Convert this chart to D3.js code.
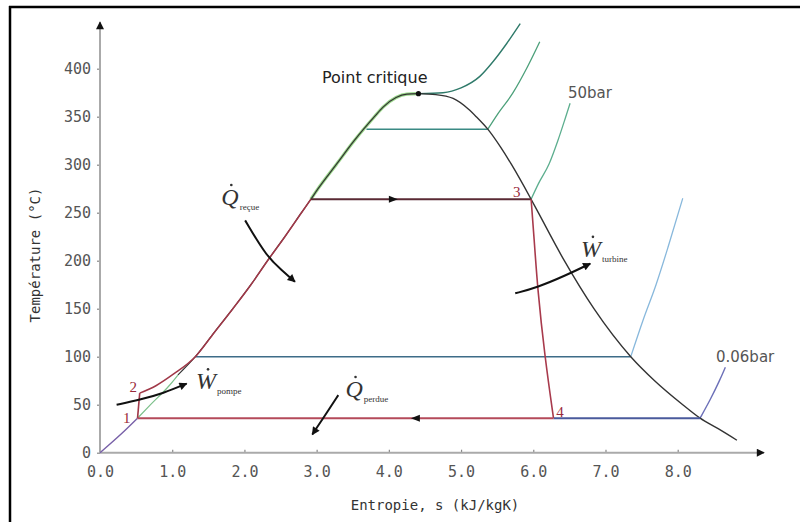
<!DOCTYPE html>
<html><head><meta charset="utf-8">
<script src="https://cdn.jsdelivr.net/npm/d3@7"></script>
<style>body{margin:0;background:#fff}svg{display:block}</style>
</head><body><svg id="c" width="800" height="522"></svg>
<script>
// ---------- data (entropy s in kJ/kgK, temperature T in °C) ----------
const xTicks = [0,1,2,3,4,5,6,7,8];
const yTicks = [0,50,100,150,200,250,300,350,400];
const satLiquid = [[0,0],[0.30,20],[0.52,36],[0.70,50],[0.96,70],[1.08,81],[1.32,100],[1.58,125],[1.84,150],[2.09,175],[2.32,200],[2.56,225],[2.79,250],[2.92,264],[3.02,275],[3.27,300],[3.52,325],[3.80,350],[3.92,360],[4.10,370],[4.25,373.5],[4.41,374]];
const satLiquidHigh = [[2.92,264],[3.02,275],[3.27,300],[3.52,325],[3.80,350],[3.92,360],[4.10,370],[4.25,373.5],[4.41,374]];
const satLiquidLow = [[0.52,36],[0.70,50],[0.96,70],[1.08,81]];
const satLiquidCold = [[0,0],[0.30,20],[0.52,36]];
const satVapor = [[4.41,374],[4.65,373],[4.89,369],[5.10,358],[5.21,350],[5.37,337],[5.55,318],[5.70,300],[5.97,264],[6.07,250],[6.43,200],[6.84,150],[7.35,100],[7.68,75],[8.07,50],[8.31,36],[8.56,25],[8.82,13]];
const pump12 = [[0.52,36],[0.55,62]];
const heat2 = [[0.55,62],[0.78,70],[1.02,82],[1.32,100],[1.58,125],[1.84,150],[2.09,175],[2.32,200],[2.56,225],[2.79,250],[2.92,264]];
const boil23 = [[2.92,264],[5.97,264]];
const turbine34 = [[5.97,264],[6.01,225],[6.06,170],[6.16,100],[6.28,36]];
const cond41 = [[6.28,36],[0.52,36]];
const wet006 = [[6.28,36],[8.31,36]];
const super006 = [[8.31,36],[8.45,55],[8.58,75],[8.66,89]];
const iso100 = [[1.32,100],[7.35,100]];
const super100 = [[7.35,100],[7.52,138],[7.70,175],[7.87,215],[8.07,265]];
const super50 = [[5.97,264],[6.07,280],[6.22,301],[6.34,325],[6.45,350],[6.51,364]];
const iso140 = [[3.69,337],[5.37,337]];
const super140 = [[5.37,337],[5.50,352],[5.72,375],[5.92,402],[6.09,428]];
const isoCrit = [[4.41,374],[4.75,375],[5.00,380],[5.26,392],[5.45,408],[5.63,426],[5.82,447]];
const arrowRecue = [[2.01,242],[2.31,204],[2.52,190],[2.70,178]];
const arrowTurbine = [[5.75,166],[6.05,172],[6.46,185],[6.79,197]];
const arrowPompe = [[0.23,50],[0.55,55],[0.88,62],[1.20,72]];
const arrowPerdue = [[3.30,60],[3.17,45],[2.94,19]];
const flowArrows = [[4.0,264,1],[4.43,36,-1]];
const pointLabels = [["1",0.37,31],["2",0.46,63],["3",5.77,266],["4",6.37,37]];
const pressureLabels = [["50bar",6.48,369],["0.06bar",8.53,94]];
const critPoint = [4.41,374];
const mathLabels = [["Q","reçue",1.68,258],["W","turbine",6.66,204],["W","pompe",1.33,66],["Q","perdue",3.40,58]];

// ---------- drawing ----------
const svg = d3.select("#c");
const x = d3.scaleLinear().domain([0,8]).range([100,677.7]);
const y = d3.scaleLinear().domain([0,400]).range([452.7,68.7]);
const line = d3.line().x(d=>x(d[0])).y(d=>y(d[1])).curve(d3.curveMonotoneX);
const smooth = d3.line().x(d=>x(d[0])).y(d=>y(d[1])).curve(d3.curveBasis);
const straight = d3.line().x(d=>x(d[0])).y(d=>y(d[1]));

const defs = svg.append("defs");
defs.append("marker").attr("id","ah").attr("viewBox","0 0 10 10").attr("refX",9).attr("refY",5)
  .attr("markerWidth",10).attr("markerHeight",8).attr("markerUnits","userSpaceOnUse").attr("orient","auto")
  .append("path").attr("d","M0,0L10,5L0,10Z").attr("fill","#111");

// frame
svg.append("line").attr("x1",9).attr("x2",800).attr("y1",7).attr("y2",7).attr("stroke","#000").attr("stroke-width",2.5);
svg.append("line").attr("x1",10).attr("x2",10).attr("y1",6).attr("y2",522).attr("stroke","#000").attr("stroke-width",2.5);

// axes
const gx = svg.append("g").attr("transform",`translate(0,${y(0)})`)
  .call(d3.axisBottom(x).tickValues(xTicks).tickFormat(d3.format(".1f")).tickSizeInner(-3).tickSizeOuter(0).tickPadding(14));
const gy = svg.append("g").attr("transform",`translate(${x(0)},0)`)
  .call(d3.axisLeft(y).tickValues(yTicks).tickSizeInner(3).tickSizeOuter(0).tickPadding(6));
[gx,gy].forEach(g=>{
  g.select(".domain").remove();
  g.selectAll(".tick line").attr("stroke","#888").attr("stroke-width",1.2);
  g.selectAll(".tick text").attr("fill","#555").style("font-family","DejaVu Sans Mono").style("font-size","15px");
});
svg.append("line").attr("x1",x(0)).attr("x2",764).attr("y1",y(0)).attr("y2",y(0))
  .attr("stroke","#aaa").attr("stroke-width",2).attr("marker-end","url(#ah)");
svg.append("line").attr("x1",x(0)).attr("x2",x(0)).attr("y1",y(0)).attr("y2",22)
  .attr("stroke","#aaa").attr("stroke-width",2).attr("marker-end","url(#ah)");

svg.append("text").attr("x",435).attr("y",510).attr("text-anchor","middle")
  .style("font-family","DejaVu Sans Mono").style("font-size","14px").attr("fill","#333")
  .text("Entropie, s (kJ/kgK)");
svg.append("text").attr("transform","translate(40,255) rotate(-90)").attr("text-anchor","middle")
  .style("font-family","DejaVu Sans Mono").style("font-size","14px").attr("fill","#333")
  .text("Température (°C)");

function path(data, color, w, gen){ return svg.append("path").datum(data).attr("d",(gen||line)).attr("fill","none").attr("stroke",color).attr("stroke-width",w); }

// isobars
path(super100,"#88b8dc",1.3);
path(iso100,"#3d6c88",1.4,straight);
path(super006,"#6c70b8",1.4,smooth);
path(super50,"#5cae8e",1.3);
path(iso140,"#3a8a84",1.5,straight);
path(super140,"#4ca07a",1.3);
path(isoCrit,"#2f7a6a",1.4);
path(satLiquidHigh,"#9ad88a",3.2);
path(satLiquidLow,"#7cc08a",1.2);
path(satLiquidCold,"#7860a8",1.4);
// saturation dome
path(satLiquid.filter(d=>d[1]>=80),"#333",1.2);
path(satVapor,"#333",1.4);
// cycle
path(wet006,"#4a5a9c",2,straight);
path(pump12,"#a03848",1.6,straight);
path(heat2,"#a03848",1.5);
path(boil23,"#5a2a34",2,straight);
path(turbine34,"#a83a4c",1.6,smooth);
path(cond41,"#b44a5a",2,straight);

flowArrows.forEach(a=>{
  const cx=x(a[0]), cy=y(a[1]), d=a[2];
  svg.append("path").attr("d",`M${cx},${cy-3.5}L${cx+9*d},${cy}L${cx},${cy+3.5}Z`).attr("fill","#111");
});

// critical point
svg.append("circle").attr("cx",x(critPoint[0])).attr("cy",y(critPoint[1])).attr("r",2.6).attr("fill","#111");
svg.append("text").attr("x",322).attr("y",83).style("font-family","DejaVu Sans").style("font-size","16px").attr("fill","#222").text("Point critique");

pressureLabels.forEach(p=>svg.append("text").attr("x",x(p[1])).attr("y",y(p[2]))
  .style("font-family","DejaVu Sans").style("font-size","15px").attr("fill","#555").text(p[0]));
pointLabels.forEach(p=>svg.append("text").attr("x",x(p[1])).attr("y",y(p[2])).attr("text-anchor","middle")
  .style("font-family","Liberation Serif").style("font-size","15px").attr("fill","#9a2a3a").text(p[0]));

// energy arrows
[arrowRecue,arrowTurbine,arrowPompe,arrowPerdue].forEach(a=>path(a,"#111",2,smooth).attr("marker-end","url(#ah)"));

mathLabels.forEach(m=>{
  const px=x(m[2]), py=y(m[3]);
  const t=svg.append("text").attr("x",px).attr("y",py).style("font-family","Liberation Serif").attr("fill","#333");
  t.append("tspan").style("font-size","24px").style("font-style","italic").text(m[0]);
  t.append("tspan").attr("dy",5).attr("dx",1).style("font-size","9px").text(m[1]);
  svg.append("circle").attr("cx",px+(m[0]==="W"?12:10)).attr("cy",py-20).attr("r",1.3).attr("fill","#333");
});
</script></body></html>
